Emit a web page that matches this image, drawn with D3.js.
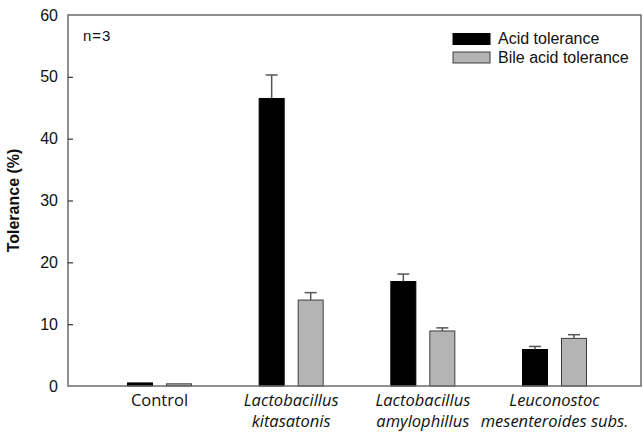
<!DOCTYPE html>
<html>
<head>
<meta charset="utf-8">
<script src="https://cdn.jsdelivr.net/npm/d3@7"></script>
<style>
  html, body { margin: 0; padding: 0; background: #fff; }
  svg { display: block; }
</style>
</head>
<body>
<svg id="chart" width="643" height="434"></svg>
<script>
// Strains tested
const categories = ["Control", "Lactobacillus kitasatonis", "Lactobacillus amylophillus", "Leuconostoc mesenteroides subs."];
const categoryLines = [["Control"], ["Lactobacillus", "kitasatonis"], ["Lactobacillus", "amylophillus"], ["Leuconostoc", "mesenteroides subs."]];
const italicLabel = [false, true, true, true];

// Mean tolerance (%) and standard deviation, n=3
const acidTolerance = [0.5, 46.5, 16.9, 5.9];
const acidSD = [0, 3.8, 1.2, 0.5];
const bileTolerance = [0.35, 13.9, 8.9, 7.7];
const bileSD = [0, 1.2, 0.5, 0.6];

const yTicks = [0, 10, 20, 30, 40, 50, 60];
const seriesNames = ["Acid tolerance", "Bile acid tolerance"];

const svg = d3.select("#chart");
const plotL = 68, plotR = 641, plotT = 15, plotB = 386;
const axisColor = "#6b6b6b";

const y = d3.scaleLinear().domain([0, 60]).range([plotB, plotT]);
const x = d3.scalePoint().domain(categories).range([159.5, 554.5]);
const barW = 25, offset = 19.5;

const series = [
  { name: seriesNames[0], values: acidTolerance, sd: acidSD, fill: "#000000", stroke: "#000000", dx: -offset },
  { name: seriesNames[1], values: bileTolerance, sd: bileSD, fill: "#b4b4b4", stroke: "#3c3c3c", dx: offset }
];

// Bars
series.forEach(s => {
  svg.append("g").selectAll("rect")
    .data(categories)
    .join("rect")
    .attr("x", (c) => x(c) + s.dx - barW / 2)
    .attr("y", (c, i) => y(s.values[i]))
    .attr("width", barW)
    .attr("height", (c, i) => y(0) - y(s.values[i]))
    .attr("fill", s.fill)
    .attr("stroke", s.stroke)
    .attr("stroke-width", 1);
});

// Upper error bars
series.forEach(s => {
  const g = svg.append("g").attr("stroke", "#555").attr("stroke-width", 1.5);
  categories.forEach((c, i) => {
    if (!s.sd[i]) return;
    const cx = x(c) + s.dx;
    const y0 = y(s.values[i]), y1 = y(s.values[i] + s.sd[i]);
    g.append("line").attr("x1", cx).attr("x2", cx).attr("y1", y0).attr("y2", y1);
    g.append("line").attr("x1", cx - 6).attr("x2", cx + 6).attr("y1", y1).attr("y2", y1);
  });
});

// Frame: left, top, bottom and right edges
svg.append("rect")
  .attr("x", plotL).attr("y", plotT)
  .attr("width", plotR - plotL).attr("height", plotB - plotT)
  .attr("fill", "none").attr("stroke", axisColor).attr("stroke-width", 1.5);

// Y axis with inward ticks
const yAxis = d3.axisLeft(y).tickValues(yTicks).tickSizeInner(-5).tickSizeOuter(0).tickPadding(10);
const yg = svg.append("g").attr("transform", `translate(${plotL},0)`).call(yAxis);
yg.select(".domain").remove();
yg.selectAll(".tick line").attr("stroke", "#333").attr("stroke-width", 1.2)
  .filter(d => d === 0 || d === 60).remove();
yg.selectAll(".tick text")
  .attr("font-family", "Liberation Sans, Arial, sans-serif")
  .attr("font-size", 16).attr("fill", "#111");

// Y axis title
svg.append("text")
  .attr("transform", `translate(18.5,${(plotT + plotB) / 2}) rotate(-90)`)
  .attr("text-anchor", "middle")
  .attr("font-family", "Liberation Sans, Arial, sans-serif")
  .attr("font-size", 16).attr("font-weight", "bold").attr("fill", "#111")
  .text("Tolerance (%)");

// Category labels
categories.forEach((c, i) => {
  const t = svg.append("text")
    .attr("x", x(c)).attr("y", 406)
    .attr("text-anchor", "middle")
    .attr("font-family", "Open Sans, Noto Sans, sans-serif")
    .attr("font-size", 16.5).attr("fill", "#111")
    .attr("font-style", italicLabel[i] ? "italic" : "normal");
  categoryLines[i].forEach((line, j) => {
    t.append("tspan").attr("x", x(c)).attr("dy", j === 0 ? 0 : 21).text(line);
  });
});

// Sample size note
svg.append("text")
  .attr("x", 83).attr("y", 41)
  .attr("font-family", "Liberation Sans, Arial, sans-serif")
  .attr("font-size", 15).attr("letter-spacing", 1).attr("fill", "#111")
  .text("n=3");

// Legend
const legend = svg.append("g");
series.forEach((s, i) => {
  const ly = 33.5 + i * 18.5;
  legend.append("rect")
    .attr("x", 453).attr("y", ly).attr("width", 37).attr("height", 11)
    .attr("fill", s.fill).attr("stroke", s.stroke).attr("stroke-width", 1);
  legend.append("text")
    .attr("x", 498).attr("y", ly + 10.5)
    .attr("font-family", "Liberation Sans, Arial, sans-serif")
    .attr("font-size", 16).attr("fill", "#111")
    .text(s.name);
});
</script>
</body>
</html>
